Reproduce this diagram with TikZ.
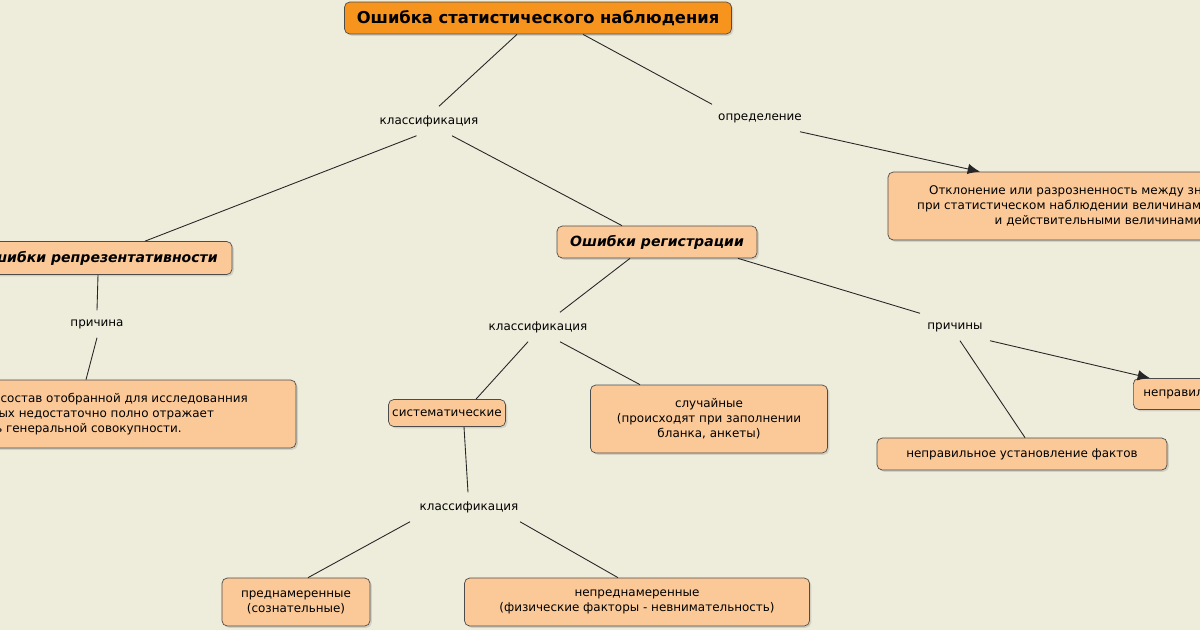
\documentclass[tikz,border=0pt]{standalone}
\usepackage{fontspec}
\setmainfont{DejaVu Sans}
\usetikzlibrary{shadows,arrows.meta}
\definecolor{bg}{RGB}{238,236,218}
\definecolor{peach}{RGB}{251,201,152}
\definecolor{orng}{RGB}{247,148,30}
\tikzset{
 box/.style={draw=black!70,fill=peach,rounded corners=3pt,inner sep=0pt,font=\fontsize{6.8}{8.6}\selectfont,align=center,drop shadow={opacity=0.25,shadow xshift=1pt,shadow yshift=-1pt}},
 txt/.style={font=\fontsize{6.8}{8.6}\selectfont,inner sep=0pt},
 lab/.style={font=\fontsize{6.8}{8.6}\selectfont,inner sep=5pt},
 ln/.style={draw=black!85,line width=0.5pt},
 arr/.style={ln,-{Latex[length=7pt,width=6pt]}}
}
\begin{document}
\begin{tikzpicture}[x=0.02cm,y=-0.02cm]
\fill[bg] (0,0) rectangle (1200,630);
\clip (0,0) rectangle (1200,630);
\useasboundingbox (0,0) rectangle (1200,630);
% boxes
\node[box,fill=orng,minimum width=387*0.02cm,minimum height=32*0.02cm,font=\fontsize{9.3}{10}\selectfont\bfseries] (top) at (538,18) {Ошибка статистического наблюдения};
\node[box,minimum width=360*0.02cm,minimum height=68*0.02cm] (def) at (1068,206) {};
\node[txt,align=center] (deft) at (1098,206) {Отклонение или разрозненность между значениями,\\при статистическом наблюдении величинами признаков\\и действительными величинами};
\node[box,minimum width=266*0.02cm,minimum height=33*0.02cm,font=\fontsize{8}{10}\selectfont\bfseries\itshape] (rep) at (99,258) {Ошибки репрезентативности};
\node[box,minimum width=200*0.02cm,minimum height=32*0.02cm,font=\fontsize{8}{10}\selectfont\bfseries\itshape] (reg) at (657,242) {Ошибки регистрации};
\node[box,minimum width=380*0.02cm,minimum height=68*0.02cm] (lb) at (106,414) {};
\node[txt,align=left,anchor=west] (lbt) at (-33,414) {Если состав отобранной для исследованния\\данных недостаточно полно отражает\\часть генеральной совокупности.};
\node[box,minimum width=117*0.02cm,minimum height=27*0.02cm] (sys) at (447,413) {систематические};
\node[box,minimum width=237*0.02cm,minimum height=68*0.02cm] (rnd) at (709,419) {случайные\\(происходят при заполнении\\бланка, анкеты)};
\node[box,minimum width=290*0.02cm,minimum height=32*0.02cm] (fact) at (1022,454) {неправильное установление фактов};
\node[box,minimum width=160*0.02cm,minimum height=31*0.02cm,anchor=west] (zap) at (1133,394) {};
\node[txt,anchor=west] (zapt) at (1143,394) {неправильная запись};
\node[box,minimum width=148*0.02cm,minimum height=48*0.02cm] (pre) at (296,602) {преднамеренные\\(сознательные)};
\node[box,minimum width=345*0.02cm,minimum height=48*0.02cm] (npre) at (637,602) {непреднамеренные\\(физические факторы - невнимательность)};
% labels
\node[lab] (k1) at (429,121) {классификация};
\node[lab] (op) at (760,118) {определение};
\node[lab] (pr) at (97,324) {причина};
\node[lab] (k2) at (538,327) {классификация};
\node[lab] (prs) at (955,327) {причины};
\node[lab] (k3) at (469,507) {классификация};
% connectors
\draw[ln] ([xshift=-21*0.02cm]top.south) -- ([xshift=10*0.02cm]k1.north);
\draw[ln] ([xshift=45*0.02cm]top.south) -- ([xshift=-48*0.02cm]op.north);
\draw[arr] ([xshift=40*0.02cm]op.south) -- ([xshift=-88*0.02cm]def.north);
\draw[ln] ([xshift=46*0.02cm]k1.south west) -- ([xshift=46*0.02cm]rep.north);
\draw[ln] ([xshift=23*0.02cm]k1.south) -- ([xshift=-35*0.02cm]reg.north);
\draw[ln] ([xshift=-1*0.02cm]rep.south) -- (pr.north);
\draw[ln] (pr.south) -- ([xshift=-20*0.02cm]lb.north);
\draw[ln] ([xshift=-27*0.02cm]reg.south) -- ([xshift=22*0.02cm]k2.north);
\draw[ln] ([xshift=81*0.02cm]reg.south) -- ([xshift=-35*0.02cm]prs.north);
\draw[ln] ([xshift=-10*0.02cm]k2.south) -- ([xshift=29*0.02cm]sys.north);
\draw[ln] ([xshift=22*0.02cm]k2.south) -- ([xshift=-69*0.02cm]rnd.north);
\draw[ln] ([xshift=5*0.02cm]prs.south) -- ([xshift=3*0.02cm]fact.north);
\draw[arr] ([xshift=35*0.02cm]prs.south) -- ([xshift=17*0.02cm]zap.north west);
\draw[ln] ([xshift=17*0.02cm]sys.south) -- ([xshift=-1*0.02cm]k3.north);
\draw[ln] ([xshift=-59*0.02cm]k3.south) -- ([xshift=12*0.02cm]pre.north);
\draw[ln] ([xshift=51*0.02cm]k3.south) -- ([xshift=-19*0.02cm]npre.north);
\end{tikzpicture}
\end{document}
